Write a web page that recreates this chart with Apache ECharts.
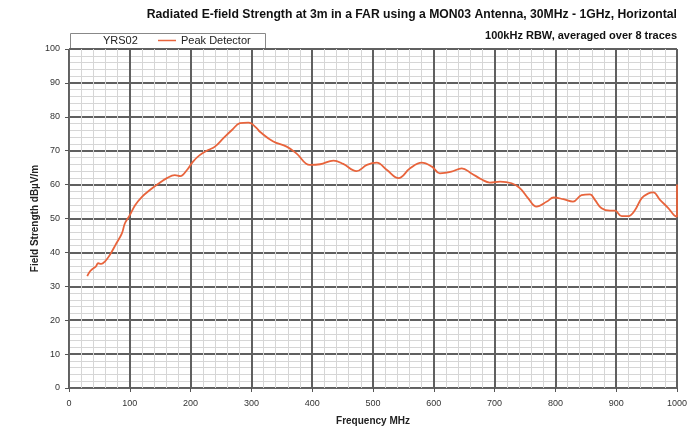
<!DOCTYPE html>
<html><head><meta charset="utf-8">
<script src="https://cdn.jsdelivr.net/npm/echarts@6/dist/echarts.min.js"></script>
<style>html,body{margin:0;padding:0;background:#fff}#c{width:697px;height:428px}</style>
</head><body><div id="c"></div>
<script>
const titleText = 'Radiated E-field Strength at 3m in a FAR using a MON03 Antenna, 30MHz - 1GHz, Horizontal';
const subtitleText = '100kHz RBW, averaged over 8 traces';
const xName = 'Frequency MHz';
const yName = 'Field Strength dBµV/m';
const legendTag = 'YRS02';
const seriesName = 'Peak Detector';
const xTicks = [0,100,200,300,400,500,600,700,800,900,1000];
const yTicks = [0,10,20,30,40,50,60,70,80,90,100];
const freqMHz = [30,35,40,44,48,53,59,67,78,87,92,100,109,120,133,144,161,174,183,194,204,215,229,240,254,268,281,295,300,309,314,336,358,374,396,413,435,451,473,490,506,523,542,561,580,597,610,629,646,662,679,692,709,728,742,755,769,786,797,813,829,843,857,865,876,890,898,909,920,931,942,953,961,972,986,995,1000,1000];
const peakDbuv = [33,34.5,35.3,35.8,36.8,36.6,37.3,39.2,42.7,45.6,48.6,51,54,56.4,58.4,59.9,61.9,62.8,62.5,64.3,66.8,68.7,70.2,71.2,73.7,76.1,78.1,78.3,78,76.6,75.6,72.7,71.2,69.2,65.8,66,67.1,66.1,64,65.8,66.5,64.3,61.9,64.8,66.5,65.3,63.3,63.8,64.8,63.3,61.5,60.6,60.9,60.4,58.9,56,53.5,55,56.2,55.7,55,56.9,57.1,55.5,53,52.3,52.3,50.7,50.7,52.5,56,57.4,57.7,55.5,53,51,50.5,60];

const chart = echarts.init(document.getElementById('c'));
const font = 'Liberation Sans, Arial, sans-serif';
chart.setOption({
  animation:false,
  backgroundColor:'#fff',
  title:[
    {text:titleText,right:15,top:7,padding:[2,5],textStyle:{fontFamily:font,fontSize:12.2,fontWeight:'bold',color:'#111'}},
    {text:subtitleText,right:15,top:28,padding:[2,5],textStyle:{fontFamily:font,fontSize:11,fontWeight:'bold',color:'#111'}}
  ],
  grid:{left:69,right:20,top:49,bottom:40,containLabel:false,outerBoundsMode:'none'},
  legend:{data:[seriesName],left:158,top:35,itemWidth:18,itemHeight:8,itemGap:4,padding:0,
    icon:'path://M0,3.5 L18,3.5 L18,5 L0,5 Z',
    textStyle:{fontFamily:font,fontSize:11,color:'#222'}},
  graphic:[
    {type:'rect',left:70,top:33,shape:{width:195,height:15},style:{fill:'#fff',stroke:'#888',lineWidth:1},z:0},
    {type:'text',left:103,top:35,style:{text:legendTag,font:'11px '+font,fill:'#222'}}
  ],
  xAxis:{type:'value',min:0,max:1000,interval:100,
    name:xName,nameLocation:'middle',nameGap:28,nameMoveOverlap:false,
    nameTextStyle:{fontFamily:font,fontSize:10,fontWeight:'bold',color:'#222'},
    axisLine:{show:true,lineStyle:{color:'#666',width:1}},
    axisTick:{show:true,length:4,lineStyle:{color:'#555'}},
    axisLabel:{fontFamily:font,fontSize:9,color:'#333',margin:11,
      formatter:v=>xTicks.includes(v)?String(v):''},
    splitLine:{show:true,lineStyle:{color:'#606060',width:2}},
    minorTick:{show:false,splitNumber:5},
    minorSplitLine:{show:true,lineStyle:{color:'#d6d6d6',width:1}}
  },
  yAxis:{type:'value',min:0,max:100,interval:10,
    name:yName,nameLocation:'middle',nameGap:29,nameRotate:90,nameMoveOverlap:false,
    nameTextStyle:{fontFamily:font,fontSize:10,fontWeight:'bold',color:'#222'},
    axisLine:{show:true,lineStyle:{color:'#666',width:1}},
    axisTick:{show:true,length:4,lineStyle:{color:'#555'}},
    axisLabel:{fontFamily:font,fontSize:9,color:'#333',margin:9,
      formatter:v=>yTicks.includes(v)?String(v):''},
    splitLine:{show:true,lineStyle:{color:'#606060',width:2}},
    minorTick:{show:false,splitNumber:5},
    minorSplitLine:{show:true,lineStyle:{color:'#d6d6d6',width:1}}
  },
  series:[{name:seriesName,type:'line',data:freqMHz.map((f,i)=>[f,peakDbuv[i]]),
    showSymbol:false,smooth:0.4,lineStyle:{color:'#e8643c',width:1.8},itemStyle:{color:'#e8643c'}}]
});
</script></body></html>
